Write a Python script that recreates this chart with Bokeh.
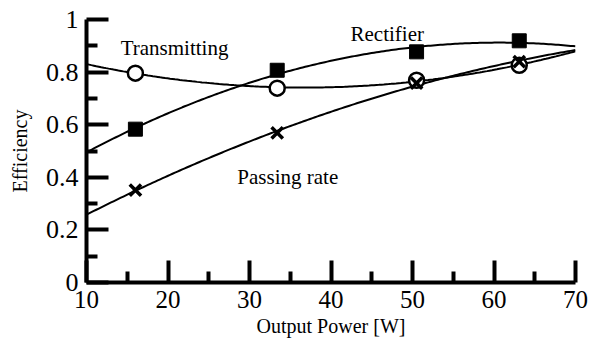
import numpy as np
from bokeh.plotting import figure
from bokeh.models import FixedTicker, Range1d, Label
from bokeh.embed import file_html
from bokeh.resources import INLINE

# ---- data ----
power = [16.0, 33.4, 50.5, 63.1]
transmitting = [0.796, 0.739, 0.769, 0.826]
rectifier = [0.583, 0.807, 0.877, 0.919]
passing_rate = [0.351, 0.569, 0.758, 0.840]

x_ticks = [10, 20, 30, 40, 50, 60, 70]
x_minor = [15, 25, 35, 45, 55, 65]
y_ticks = [0, 0.2, 0.4, 0.6, 0.8, 1]
y_minor = [0.1, 0.3, 0.5, 0.7, 0.9]
y_tick_labels = ["0", "0.2", "0.4", "0.6", "0.8", "1"]

series_labels = ["Transmitting", "Rectifier", "Passing rate"]

FONT = "Liberation Serif"

p = figure(width=593, height=342, output_backend="svg", toolbar_location=None,
           x_range=Range1d(10, 70), y_range=Range1d(0, 1),
           min_border_left=86, min_border_right=18, min_border_top=19,
           min_border_bottom=60)
p.outline_line_color = None
p.grid.visible = False
p.background_fill_color = "white"
p.border_fill_color = "white"

# fitted trend curves (2nd-order least squares through the measured points)
xs = np.linspace(10, 70, 200)
for ys in (transmitting, rectifier, passing_rate):
    coef = np.polyfit(power, ys, 2)
    p.line(xs, np.polyval(coef, xs), line_color="black", line_width=2)

p.scatter(power, transmitting, marker="circle", size=15, fill_color="white",
          line_color="black", line_width=2.5)
p.scatter(power, rectifier, marker="square", size=14, fill_color="black",
          line_color="black")
p.scatter(power, passing_rate, marker="x", size=16, line_color="black",
          line_width=3.5)

label_pos = [(20.8, 0.89), (46.9, 0.944), (34.7, 0.40)]
for txt, (lx, ly) in zip(series_labels, label_pos):
    p.add_layout(Label(x=lx, y=ly, text=txt, text_font=FONT, text_font_size="21px",
                       text_align="center", text_baseline="alphabetic",
                       text_color="black"))

p.axis.axis_line_width = 4
p.axis.axis_line_color = "black"
p.axis.major_tick_line_width = 4
p.axis.minor_tick_line_width = 4
p.axis.major_tick_in = 22
p.axis.major_tick_out = 0
p.axis.minor_tick_in = 11
p.axis.minor_tick_out = 0
p.axis.major_label_standoff = 8
p.axis.major_label_text_color = "black"
p.axis.major_label_text_font = FONT
p.axis.axis_label_text_font = FONT
p.axis.axis_label_text_font_style = "normal"
p.axis.axis_label_text_font_size = "20px"
p.axis.axis_label_text_color = "black"

p.xaxis.major_label_text_font_size = "25px"
p.yaxis.major_label_text_font_size = "26px"

p.xaxis.ticker = FixedTicker(ticks=x_ticks, minor_ticks=x_minor)
p.yaxis.ticker = FixedTicker(ticks=y_ticks, minor_ticks=y_minor)
p.yaxis.major_label_overrides = {t: s for t, s in zip(y_ticks, y_tick_labels)}
p.xaxis.axis_label = "Output Power [W]"
p.yaxis.axis_label = "Efficiency"
p.xaxis.axis_label_standoff = 4
p.yaxis.axis_label_standoff = 12

open("out.html", "w").write(file_html(p, INLINE))
